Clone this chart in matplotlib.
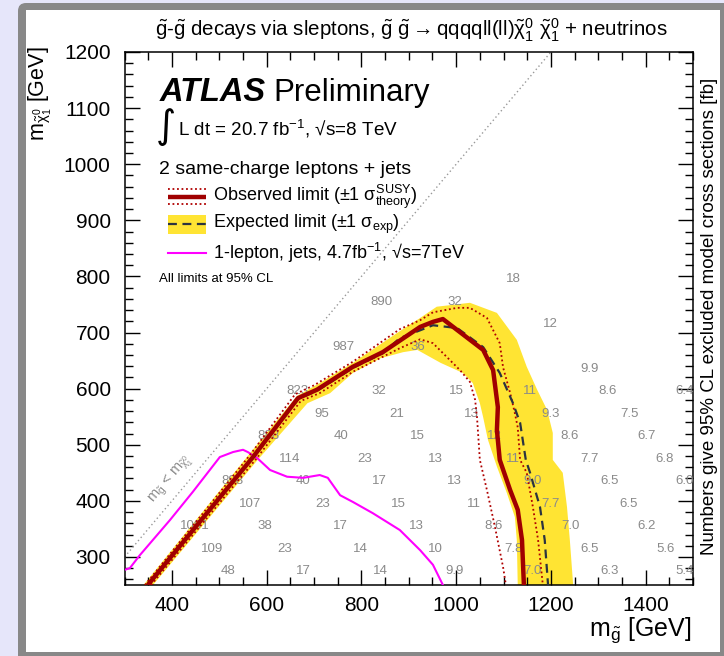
import numpy as np
import matplotlib
matplotlib.use("Agg")
import matplotlib.pyplot as plt
from matplotlib.lines import Line2D
from matplotlib.patches import Rectangle, FancyBboxPatch

plt.rcParams['font.family'] = ['Liberation Sans', 'DejaVu Sans']
plt.rcParams['mathtext.fontset'] = 'custom'
plt.rcParams['mathtext.rm'] = 'Liberation Sans'
plt.rcParams['mathtext.it'] = 'Liberation Sans'
plt.rcParams['mathtext.bf'] = 'Liberation Sans:bold'
plt.rcParams['mathtext.sf'] = 'Liberation Sans'

# ---------------- data ----------------
# observed limit
obs_x = [349, 571, 666, 706, 782, 845, 924, 951, 972, 1057, 1078, 1088, 1086, 1092, 1114, 1130, 1139, 1143]
obs_y = [250, 478, 583, 598, 639, 665, 710, 719, 724, 669, 633, 567, 526, 473, 419, 384, 330, 250]
# observed +1 sigma theory
obs_up_x = [343, 565, 660, 700, 782, 881, 924, 951, 1002, 1029, 1065, 1092, 1099, 1114, 1124, 1130, 1135, 1149, 1162, 1173, 1183]
obs_up_y = [250, 482, 590, 606, 648, 706, 722, 736, 744, 744, 726, 681, 638, 592, 556, 531, 473, 450, 389, 330, 250]
# observed -1 sigma theory
obs_dn_x = [356, 578, 672, 712, 782, 881, 924, 951, 1008, 1029, 1040, 1044, 1050, 1065, 1082, 1099, 1105]
obs_dn_y = [250, 475, 578, 592, 630, 672, 688, 681, 633, 612, 580, 549, 473, 419, 353, 282, 250]
# expected limit
exp_x = [350, 572, 667, 706, 782, 845, 881, 924, 951, 1002, 1057, 1092, 1120, 1135, 1147, 1156, 1177, 1187, 1194]
exp_y = [250, 478, 582, 596, 637, 663, 690, 704, 713, 708, 674, 628, 574, 539, 473, 450, 389, 330, 250]
# expected +-1 sigma band edges
band_up_x = [340, 562, 664, 712, 782, 875, 924, 959, 1029, 1086, 1128, 1149, 1171, 1192, 1204, 1204, 1225, 1234, 1240, 1247]
band_up_y = [250, 482, 587, 610, 646, 699, 726, 746, 753, 735, 687, 639, 598, 562, 521, 473, 450, 389, 330, 250]
band_lo_x = [1130, 1128, 1124, 1107, 1086, 1067, 1057, 1050, 1035, 1014, 967, 918, 888, 840, 782, 734, 686, 580, 360]
band_lo_y = [250, 330, 371, 414, 461, 509, 549, 574, 610, 628, 646, 669, 665, 654, 628, 592, 574, 472, 250]
# 1-lepton 7 TeV limit
lep_x = [300, 311, 332, 396, 444, 501, 529, 550, 560, 579, 607, 643, 677, 712, 729, 755, 782, 824, 881, 924, 951, 972]
lep_y = [277, 280, 303, 366, 416, 478, 487, 491, 487, 477, 455, 443, 441, 446, 441, 410, 398, 378, 348, 312, 286, 250]

# excluded cross sections [fb]
num_x = [1120,
         843, 997,
         1198,
         763, 919,
         1282,
         664, 837, 1000, 1156, 1320, 1483,
         717, 875, 1033, 1200, 1365,
         603, 757, 919, 1080, 1240, 1401,
         649, 807, 957, 1120, 1282, 1441,
         527, 677, 837, 997, 1162, 1323, 1483,
         565, 719, 877, 1038, 1200, 1363,
         449, 596, 755, 917, 1080, 1242, 1403,
         484, 639, 797, 957, 1120, 1282, 1443,
         518, 677, 841, 997, 1162, 1323, 1483]
num_y = [795,
         755, 755,
         715,
         675, 675,
         635,
         595, 595, 595, 595, 595, 595,
         555, 555, 555, 555, 555,
         515, 515, 515, 515, 515, 515,
         475, 475, 475, 475, 475, 475,
         435, 435, 435, 435, 435, 435, 435,
         395, 395, 395, 395, 395, 395,
         355, 355, 355, 355, 355, 355, 355,
         315, 315, 315, 315, 315, 315, 315,
         275, 275, 275, 275, 275, 275, 275]
num_labels = ["18",
              "890", "32",
              "12",
              "987", "36",
              "9.9",
              "823", "32", "15", "11", "8.6", "6.4",
              "95", "21", "13", "9.3", "7.5",
              "888", "40", "15", "12", "8.6", "6.7",
              "114", "23", "13", "11", "7.7", "6.8",
              "898", "40", "17", "13", "9.0", "6.5", "6.0",
              "107", "23", "15", "11", "7.7", "6.5",
              "1001", "38", "17", "13", "8.6", "7.0", "6.2",
              "109", "23", "14", "10", "7.8", "6.5", "5.6",
              "48", "17", "14", "9.9", "7.0", "6.3", "5.4"]

x_ticks = [400, 600, 800, 1000, 1200, 1400]
y_ticks = [300, 400, 500, 600, 700, 800, 900, 1000, 1100, 1200]

# ---------------- figure ----------------
W, H = 724, 656
fig = plt.figure(figsize=(W / 100, H / 100), dpi=100)
fig.patch.set_facecolor('#e6e6fa')

def fx(px):
    return px / W

def fy(py):
    return 1 - py / H

# frame
fig.patches.append(FancyBboxPatch((0.18, -0.2), 7.5, 6.73, boxstyle="round,pad=0,rounding_size=0.08",
                                  transform=fig.dpi_scale_trans, facecolor='#888888', edgecolor='none', zorder=-2))
fig.patches.append(Rectangle((0.26, 0.04), 6.94, 6.42, transform=fig.dpi_scale_trans,
                             facecolor='white', edgecolor='none', zorder=-1))

ax = fig.add_axes([fx(124.6), fy(585), fx(693) - fx(124.6), fy(52) - fy(585)])
ax.set_zorder(1)
ax.set_facecolor('white')
ax.set_xlim(300, 1500)
ax.set_ylim(250, 1200)

# band
ax.fill(band_up_x + band_lo_x, band_up_y + band_lo_y, color='#ffe433', lw=0, zorder=1)
# diagonal
ax.plot([300, 1200], [300, 1200], ls=(0, (1, 2)), color='#999999', lw=1.0, zorder=2)
# numbers
for x, y, s in zip(num_x, num_y, num_labels):
    ax.text(x, y, s, color='#8a8a8a', fontsize=9.5, ha='center', va='center', zorder=3, clip_on=False)
# magenta
ax.plot(lep_x, lep_y, color='#ff00ff', lw=1.5, zorder=4)
# dotted
ax.plot(obs_up_x, obs_up_y, color='#b00000', lw=1.3, ls=(0, (1, 1.5)), zorder=5)
ax.plot(obs_dn_x, obs_dn_y, color='#b00000', lw=1.3, ls=(0, (1, 1.5)), zorder=5)
# expected
ax.plot(exp_x, exp_y, color='#2b3340', lw=1.6, ls=(0, (4, 2.5)), zorder=6)
# observed
ax.plot(obs_x, obs_y, color='#a00000', lw=3.2, zorder=7, solid_capstyle='butt')

ax.text(398, 438, r"m$_{\tilde{g}}$ < m$_{\tilde{\chi}^0_1}$", rotation=49.8, color='#8a8a8a', fontsize=10.5,
        ha='center', va='center', rotation_mode='anchor', zorder=3)

ax.set_xticks(x_ticks)
ax.set_yticks(y_ticks)
ax.set_xticks(np.arange(300, 1501, 50), minor=True)
ax.set_yticks(np.arange(260, 1201, 20), minor=True)
ax.tick_params(which='both', direction='in', top=True, right=True, width=1.0, colors='black', labelsize=15)
ax.tick_params(which='major', length=11)
ax.tick_params(which='minor', length=5.5)
ax.tick_params(axis='x', pad=8)
ax.tick_params(axis='y', pad=10)
for sp in ax.spines.values():
    sp.set_linewidth(1.1)

# texts
fig.text(fx(155), fy(30), r"$\tilde{g}$-$\tilde{g}$ decays via sleptons, $\tilde{g}\ \tilde{g}\rightarrow$qqqqll(ll)$\tilde{\chi}^0_1$ $\tilde{\chi}^0_1$ + neutrinos",
         fontsize=14.8, ha='left', va='center')
fig.text(fx(160), fy(101), "ATLAS", fontsize=23.5, fontweight='bold', fontstyle='italic', ha='left', va='baseline')
fig.text(fx(273), fy(101), "Preliminary", fontsize=22.5, ha='left', va='baseline')
fig.text(fx(156), fy(127), "\u222b", fontsize=28, ha='left', va='center', family=['DejaVu Sans'])
fig.text(fx(178), fy(136), "L dt = 20.7 fb$^{-1}$, \u221As=8 TeV", fontsize=13.6, ha='left', va='baseline')
fig.text(fx(159), fy(174), "2 same-charge leptons + jets", fontsize=14, ha='left', va='baseline')

# legend samples
def fline(x0, x1, y, **kw):
    fig.add_artist(Line2D([fx(x0), fx(x1)], [fy(y), fy(y)], transform=fig.transFigure, **kw))

fline(168, 206, 189, color='#b00000', lw=1.3, ls=(0, (1, 1.5)))
fline(168, 206, 204, color='#b00000', lw=1.3, ls=(0, (1, 1.5)))
fline(168, 206, 197, color='#a00000', lw=3.2, solid_capstyle='butt')
fig.patches.append(Rectangle((fx(168), fy(234)), fx(206) - fx(168), fy(215) - fy(234), transform=fig.transFigure,
                             facecolor='#ffe433', edgecolor='none'))
fline(168, 206, 224, color='#2b3340', lw=1.6, ls=(0, (4, 2.5)))
fline(168, 206, 253, color='#ff00ff', lw=1.5)

fig.text(fx(213), fy(201), r"Observed limit ($\pm$1 $\sigma^{\mathrm{SUSY}}_{\mathrm{theory}}$)", fontsize=13, ha='left', va='baseline')
fig.text(fx(213), fy(228), r"Expected limit ($\pm$1 $\sigma_{\mathrm{exp}}$)", fontsize=13, ha='left', va='baseline')
fig.text(fx(213), fy(259), "1-lepton, jets, 4.7fb$^{-1}$, \u221As=7TeV", fontsize=13, ha='left', va='baseline')
fig.text(fx(159), fy(282), "All limits at 95% CL", fontsize=9.5, ha='left', va='baseline')

# axis labels
fig.text(fx(692), fy(636), r"m$_{\tilde{g}}$ [GeV]", fontsize=18, ha='right', va='baseline')
fig.text(fx(40), fy(46), r"m$_{\tilde{\chi}^0_1}$ [GeV]", fontsize=15.5, rotation=90, ha='center', va='top')
fig.text(fx(709), fy(316), "Numbers give 95% CL excluded model cross sections [fb]", fontsize=13.5,
         rotation=90, ha='center', va='center')

fig.savefig("out.png", dpi=100, facecolor=fig.get_facecolor())
